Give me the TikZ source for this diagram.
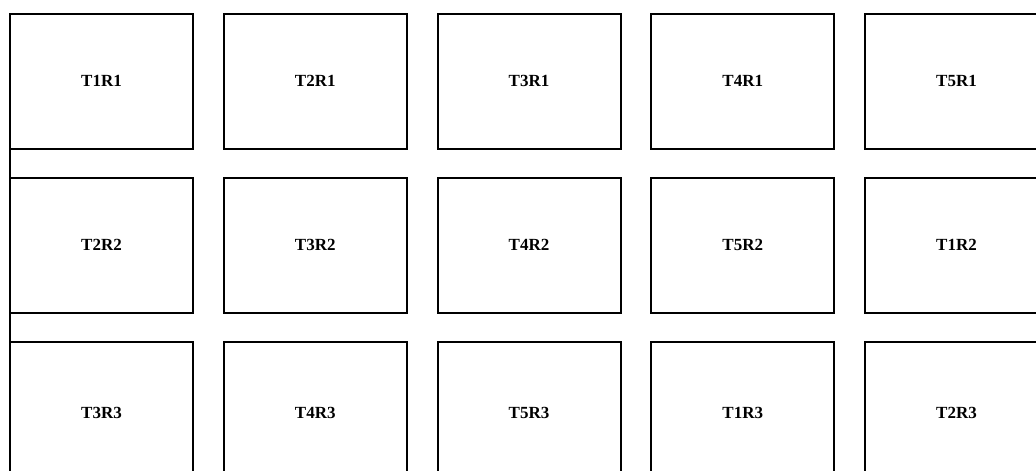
\documentclass[tikz,border=0pt]{standalone}
\usepackage{fontspec}
\setmainfont{Liberation Serif}
\begin{document}
\begin{tikzpicture}[x=1pt, y=-1pt,
    tile/.style={draw, line width=2pt, outer sep=0pt, minimum width=183pt, minimum height=135pt, font=\fontsize{17}{20}\selectfont\bfseries},
    lowtile/.style={tile, minimum height=141pt}]
    \clip (0,0) rectangle (1036,471);
    \useasboundingbox (0,0) rectangle (1036,471);
    \foreach \r in {1,2}
        \foreach \c in {1,...,5} {
            \pgfmathtruncatemacro{\t}{mod(\c+\r-2,5)+1}
            \node[tile] (n\r\c) at ({101.5+213.75*(\c-1)}, {81+164*(\r-1)}) {T\t R\r};
        }
    \foreach \c in {1,...,5} {
        \pgfmathtruncatemacro{\t}{mod(\c+1,5)+1}
        \node[lowtile] (n3\c) at ({101.5+213.75*(\c-1)}, 412.5) {T\t R3};
    }
    \coordinate (leftend) at (10,480);
    \draw[line width=2pt] (n11.north west) -- (leftend);
\end{tikzpicture}
\end{document}
